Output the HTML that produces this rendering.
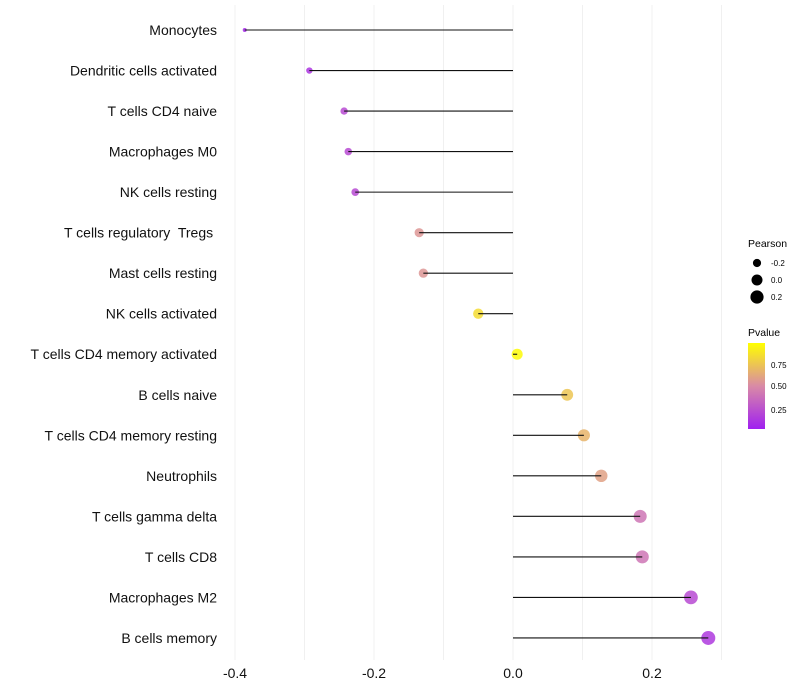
<!DOCTYPE html>
<html><head><meta charset="utf-8"><style>
body{margin:0;background:#fff;font-family:"Liberation Sans",sans-serif}
svg{display:block}
text{white-space:pre}
</style></head><body>
<svg id="chart" width="800" height="700" xmlns="http://www.w3.org/2000/svg">
<defs><linearGradient id="pg" x1="0" y1="1" x2="0" y2="0">
<stop offset="0" stop-color="#a020f0"/><stop offset="0.5" stop-color="#d98aa6"/><stop offset="1" stop-color="#ffff00"/></linearGradient></defs>
<g id="grid"></g><g id="marks"></g><g id="labels"></g>
<g font-size="10">
<text x="748" y="247" font-size="10.5">Pearson</text>
<circle cx="757" cy="263" r="4.1" fill="#000"/><text x="771" y="266" font-size="8">-0.2</text>
<circle cx="757" cy="280" r="5.5" fill="#000"/><text x="771" y="283" font-size="8">0.0</text>
<circle cx="757" cy="297" r="6.6" fill="#000"/><text x="771" y="300" font-size="8">0.2</text>
<text x="748" y="336" font-size="10.5">Pvalue</text>
<rect x="748" y="343" width="17" height="86" fill="url(#pg)"/>
<text x="771" y="368" font-size="8">0.75</text>
<text x="771" y="389" font-size="8">0.50</text>
<text x="771" y="413" font-size="8">0.25</text>
</g>
</svg>
<script>
const categories=["Monocytes","Dendritic cells activated","T cells CD4 naive","Macrophages M0","NK cells resting","T cells regulatory  Tregs ","Mast cells resting","NK cells activated","T cells CD4 memory activated","B cells naive","T cells CD4 memory resting","Neutrophils","T cells gamma delta","T cells CD8","Macrophages M2","B cells memory"];
const pearson=[-0.386,-0.293,-0.243,-0.237,-0.227,-0.135,-0.129,-0.050,0.006,0.078,0.102,0.127,0.183,0.186,0.256,0.281];
const pvalues=[0.04,0.10,0.20,0.20,0.20,0.55,0.55,0.85,0.98,0.75,0.68,0.60,0.40,0.40,0.20,0.12];
const xTicks=[-0.4,-0.2,0.0,0.2];
const xMinor=[-0.3,-0.1,0.1,0.3];
const NS="http://www.w3.org/2000/svg";
const x=v=>513+v*695;
const y=i=>30+i*40.53;
function col(p){const a=[160,32,240],m=[217,138,166],b=[255,255,0];let c;
 if(p<0.5){const t=p/0.5;c=a.map((v,k)=>v+(m[k]-v)*t);}else{const t=(p-0.5)/0.5;c=m.map((v,k)=>v+(b[k]-v)*t);}
 return `rgb(${c.map(Math.round).join(",")})`;}
const rad=v=>Math.sqrt(Math.max(1,30.1+67.6*v));
function mk(t,a,p){const e=document.createElementNS(NS,t);for(const k in a)e.setAttribute(k,a[k]);p.appendChild(e);return e;}
const g=document.getElementById("grid"),m=document.getElementById("marks"),l=document.getElementById("labels");
xTicks.concat(xMinor).forEach(v=>{const e=mk("line",{x1:x(v),x2:x(v),y1:5,y2:660,stroke:"#f0f0f0","stroke-width":1},g);

});
xTicks.forEach(v=>{const t=mk("text",{x:x(v),y:678,"text-anchor":"middle","font-size":14,fill:"#111"},l);t.textContent=v.toFixed(1);

});
categories.forEach((c,i)=>{
 const t=mk("text",{x:217,y:y(i)+5,"text-anchor":"end","font-size":14,fill:"#111"},l);t.textContent=c;
 
 
 const d=mk("circle",{cx:x(pearson[i]),cy:y(i),r:rad(pearson[i]),fill:col(pvalues[i]),"fill-opacity":0.85},m);
 
 
 const s=mk("line",{x1:x(0),x2:x(pearson[i]),y1:y(i),y2:y(i),stroke:"#111","stroke-width":1.1},m);
 
 
});
</script>
</body></html>
